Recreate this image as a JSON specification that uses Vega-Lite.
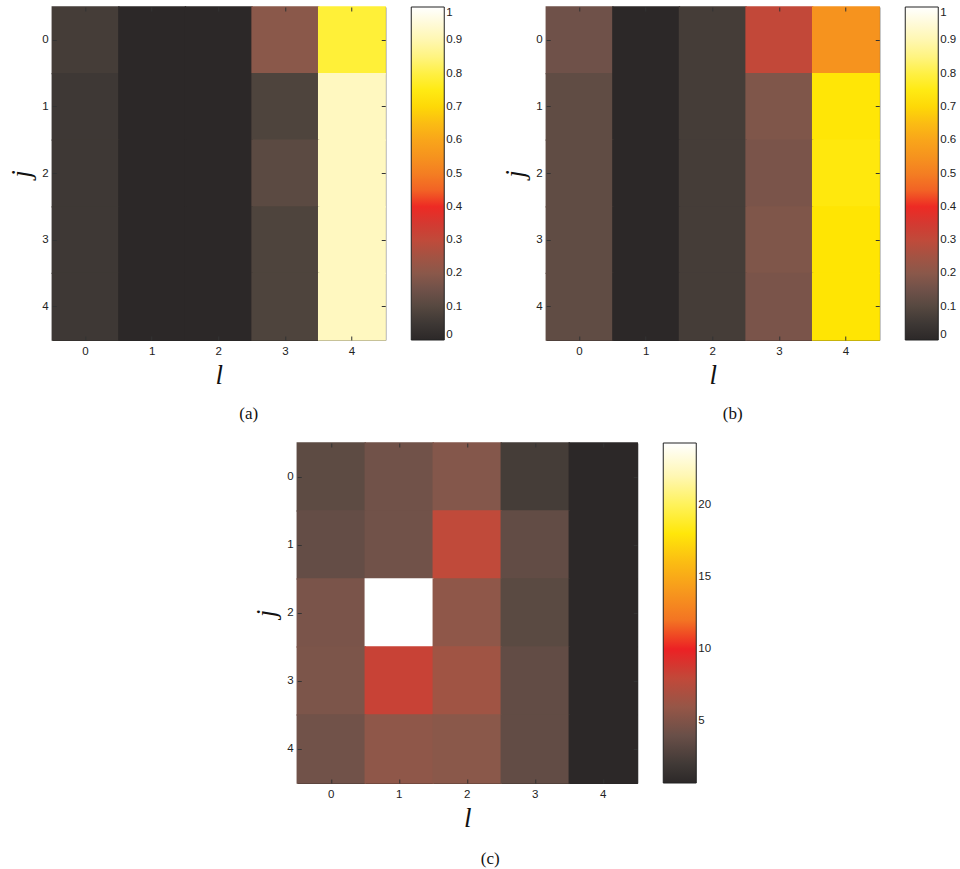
{
  "$schema": "https://vega.github.io/schema/vega-lite/v6.json",
  "background": "white",
  "padding": {"left": 7, "top": 5, "right": 5, "bottom": 5},
  "datasets": {
    "a": [
      {"j": 0, "l": 0, "v": 0.065}, {"j": 0, "l": 1, "v": 0}, {"j": 0, "l": 2, "v": 0}, {"j": 0, "l": 3, "v": 0.2}, {"j": 0, "l": 4, "v": 0.79},
      {"j": 1, "l": 0, "v": 0.05}, {"j": 1, "l": 1, "v": 0}, {"j": 1, "l": 2, "v": 0}, {"j": 1, "l": 3, "v": 0.085}, {"j": 1, "l": 4, "v": 0.92},
      {"j": 2, "l": 0, "v": 0.05}, {"j": 2, "l": 1, "v": 0}, {"j": 2, "l": 2, "v": 0}, {"j": 2, "l": 3, "v": 0.11}, {"j": 2, "l": 4, "v": 0.92},
      {"j": 3, "l": 0, "v": 0.05}, {"j": 3, "l": 1, "v": 0}, {"j": 3, "l": 2, "v": 0}, {"j": 3, "l": 3, "v": 0.085}, {"j": 3, "l": 4, "v": 0.92},
      {"j": 4, "l": 0, "v": 0.05}, {"j": 4, "l": 1, "v": 0}, {"j": 4, "l": 2, "v": 0}, {"j": 4, "l": 3, "v": 0.085}, {"j": 4, "l": 4, "v": 0.92}
    ],
    "b": [
      {"j": 0, "l": 0, "v": 0.15}, {"j": 0, "l": 1, "v": 0}, {"j": 0, "l": 2, "v": 0.065}, {"j": 0, "l": 3, "v": 0.31}, {"j": 0, "l": 4, "v": 0.55},
      {"j": 1, "l": 0, "v": 0.12}, {"j": 1, "l": 1, "v": 0}, {"j": 1, "l": 2, "v": 0.065}, {"j": 1, "l": 3, "v": 0.18}, {"j": 1, "l": 4, "v": 0.73},
      {"j": 2, "l": 0, "v": 0.12}, {"j": 2, "l": 1, "v": 0}, {"j": 2, "l": 2, "v": 0.065}, {"j": 2, "l": 3, "v": 0.17}, {"j": 2, "l": 4, "v": 0.74},
      {"j": 3, "l": 0, "v": 0.12}, {"j": 3, "l": 1, "v": 0}, {"j": 3, "l": 2, "v": 0.065}, {"j": 3, "l": 3, "v": 0.18}, {"j": 3, "l": 4, "v": 0.725},
      {"j": 4, "l": 0, "v": 0.12}, {"j": 4, "l": 1, "v": 0}, {"j": 4, "l": 2, "v": 0.065}, {"j": 4, "l": 3, "v": 0.17}, {"j": 4, "l": 4, "v": 0.725}
    ],
    "c": [
      {"j": 0, "l": 0, "v": 3.43}, {"j": 0, "l": 1, "v": 4.37}, {"j": 0, "l": 2, "v": 5.2}, {"j": 0, "l": 3, "v": 2.25}, {"j": 0, "l": 4, "v": 0.72},
      {"j": 1, "l": 0, "v": 3.78}, {"j": 1, "l": 1, "v": 4.37}, {"j": 1, "l": 2, "v": 7.79}, {"j": 1, "l": 3, "v": 3.67}, {"j": 1, "l": 4, "v": 0.72},
      {"j": 2, "l": 0, "v": 4.73}, {"j": 2, "l": 1, "v": 24.28}, {"j": 2, "l": 2, "v": 5.67}, {"j": 2, "l": 3, "v": 3.31}, {"j": 2, "l": 4, "v": 0.72},
      {"j": 3, "l": 0, "v": 4.84}, {"j": 3, "l": 1, "v": 8.61}, {"j": 3, "l": 2, "v": 6.49}, {"j": 3, "l": 3, "v": 3.67}, {"j": 3, "l": 4, "v": 0.72},
      {"j": 4, "l": 0, "v": 4.37}, {"j": 4, "l": 1, "v": 5.67}, {"j": 4, "l": 2, "v": 5.43}, {"j": 4, "l": 3, "v": 3.67}, {"j": 4, "l": 4, "v": 0.72}
    ]
  },
  "vconcat": [
    {
      "hconcat": [
        {
          "width": 333, "height": 333,
          "title": {"text": "(a)", "dx": 30, "offset": 17},
          "data": {"name": "a"},
          "layer": [
            {
              "mark": {"type": "rect", "width": {"band": 1.02}, "height": {"band": 1.02}},
              "encoding": {
                "x": {"field": "l", "type": "ordinal", "axis": {"title": "l", "labelPadding": 9, "titlePadding": 6}},
                "y": {"field": "j", "type": "ordinal", "axis": {"title": "j", "labelPadding": 8, "titlePadding": 6}},
                "color": {
                  "field": "v", "type": "quantitative",
                  "scale": {
                    "interpolate": "rgb",
                    "domain": [0, 0.045, 0.095, 0.145, 0.195, 0.245, 0.3, 0.335, 0.365, 0.39, 0.435, 0.475, 0.525, 0.605, 0.675, 0.72, 0.77, 0.85, 0.9, 0.96, 1],
                    "range": ["#2c2828", "#3c3634", "#53473f", "#6c5049", "#87584b", "#a05444", "#c04a3a", "#c84236", "#e0302c", "#ec1c24", "#f15a26", "#f37223", "#f58a20", "#f9a71a", "#fcc80f", "#ffe400", "#ffee20", "#fff480", "#fff7b0", "#fffbe0", "#ffffff"]
                  },
                  "legend": {"title": null, "values": [0, 0.1, 0.2, 0.3, 0.4, 0.5, 0.6, 0.7, 0.8, 0.9, 1], "format": ".1~f", "tickCount": 60}
                }
              }
            },
            {
              "mark": {"type": "rect", "opacity": 0},
              "encoding": {
                "x": {"field": "l", "type": "ordinal", "axis": {"orient": "top", "labels": false, "title": null}},
                "y": {"field": "j", "type": "ordinal", "axis": {"orient": "right", "labels": false, "title": null}}
              }
            }
          ],
          "resolve": {"axis": {"x": "independent", "y": "independent"}}
        },
        {
          "width": 333, "height": 333,
          "title": {"text": "(b)", "dx": 20, "offset": 17},
          "data": {"name": "b"},
          "layer": [
            {
              "mark": {"type": "rect", "width": {"band": 1.02}, "height": {"band": 1.02}},
              "encoding": {
                "x": {"field": "l", "type": "ordinal", "axis": {"title": "l", "labelPadding": 9, "titlePadding": 6}},
                "y": {"field": "j", "type": "ordinal", "axis": {"title": "j", "labelPadding": 8, "titlePadding": 6}},
                "color": {
                  "field": "v", "type": "quantitative",
                  "scale": {
                    "interpolate": "rgb",
                    "domain": [0, 0.045, 0.095, 0.145, 0.195, 0.245, 0.3, 0.335, 0.365, 0.39, 0.435, 0.475, 0.525, 0.605, 0.675, 0.72, 0.77, 0.85, 0.9, 0.96, 1],
                    "range": ["#2c2828", "#3c3634", "#53473f", "#6c5049", "#87584b", "#a05444", "#c04a3a", "#c84236", "#e0302c", "#ec1c24", "#f15a26", "#f37223", "#f58a20", "#f9a71a", "#fcc80f", "#ffe400", "#ffee20", "#fff480", "#fff7b0", "#fffbe0", "#ffffff"]
                  },
                  "legend": {"title": null, "values": [0, 0.1, 0.2, 0.3, 0.4, 0.5, 0.6, 0.7, 0.8, 0.9, 1], "format": ".1~f", "tickCount": 60}
                }
              }
            },
            {
              "mark": {"type": "rect", "opacity": 0},
              "encoding": {
                "x": {"field": "l", "type": "ordinal", "axis": {"orient": "top", "labels": false, "title": null}},
                "y": {"field": "j", "type": "ordinal", "axis": {"orient": "right", "labels": false, "title": null}}
              }
            }
          ],
          "resolve": {"axis": {"x": "independent", "y": "independent"}}
        }
      ],
      "spacing": 38,
      "resolve": {"scale": {"color": "independent"}, "legend": {"color": "independent"}}
    },
    {
      "width": 340, "height": 340,
      "title": {"text": "(c)", "dx": 23, "offset": 19},
      "data": {"name": "c"},
      "layer": [
        {
          "mark": {"type": "rect", "width": {"band": 1.02}, "height": {"band": 1.02}},
          "encoding": {
            "x": {"field": "l", "type": "ordinal", "axis": {"title": "l", "labelPadding": 9, "titlePadding": 6}},
            "y": {"field": "j", "type": "ordinal", "axis": {"title": "j", "labelPadding": 8, "titlePadding": 6}},
            "color": {
              "field": "v", "type": "quantitative",
              "scale": {
                "interpolate": "rgb",
                "domain": [0.72, 1.78, 2.96, 4.14, 5.31, 6.49, 7.79, 8.61, 9.32, 9.91, 10.97, 11.91, 13.09, 14.97, 16.62, 17.68, 18.86, 20.75, 21.92, 23.34, 24.28],
                "range": ["#2c2828", "#3c3634", "#53473f", "#6c5049", "#87584b", "#a05444", "#c04a3a", "#c84236", "#e0302c", "#ec1c24", "#f15a26", "#f37223", "#f58a20", "#f9a71a", "#fcc80f", "#ffe400", "#ffee20", "#fff480", "#fff7b0", "#fffbe0", "#ffffff"]
              },
              "legend": {"title": null, "values": [5, 10, 15, 20], "format": "d", "gradientLength": 340, "tickCount": 60}
            }
          }
        },
        {
          "mark": {"type": "rect", "opacity": 0},
          "encoding": {
            "x": {"field": "l", "type": "ordinal", "axis": {"orient": "top", "labels": false, "title": null}},
            "y": {"field": "j", "type": "ordinal", "axis": {"orient": "right", "labels": false, "title": null}}
          }
        }
      ],
      "resolve": {"axis": {"x": "independent", "y": "independent"}}
    }
  ],
  "spacing": 19,
  "center": true,
  "resolve": {"scale": {"color": "independent"}, "legend": {"color": "independent"}},
  "config": {
    "view": {"stroke": "#222", "strokeWidth": 1},
    "axis": {
      "labelFont": "Liberation Sans", "labelFontSize": 11.5, "labelColor": "#222", "labelAngle": 0,
      "tickColor": "#333", "tickSize": -4, "tickWidth": 1, "domain": false, "grid": false,
      "titleFont": "Liberation Serif", "titleFontStyle": "italic", "titleFontWeight": "normal", "titleFontSize": 27, "titleColor": "#111"
    },
    "legend": {
      "labelFont": "Liberation Sans", "labelFontSize": 11.5, "labelColor": "#222",
      "gradientLength": 333, "gradientThickness": 33, "gradientStrokeColor": "#222", "gradientStrokeWidth": 1,
      "offset": 25, "padding": 0, "labelOffset": 4
    },
    "title": {"font": "Liberation Serif", "fontSize": 17, "fontWeight": "normal", "color": "#111", "orient": "bottom", "anchor": "middle"}
  }
}
